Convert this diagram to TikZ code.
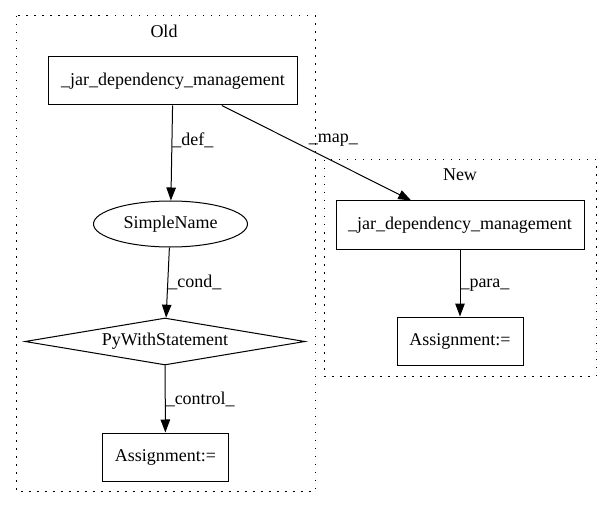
\documentclass[tikz,border=0pt]{standalone}
\usepackage{fontspec}
\setmainfont{Liberation Serif}
\usetikzlibrary{shapes.geometric,arrows.meta}
\tikzset{edge/.style={draw,line width=1pt,-{Triangle[length=13pt,width=9.5pt]}}}
\tikzset{box/.style={rectangle,draw,line width=1pt,inner sep=0pt,font=\fontsize{18}{20}\selectfont}}
\tikzset{cluster/.style={draw,line width=1pt,dash pattern=on 1.5pt off 6.5pt}}
\tikzset{lbl/.style={inner sep=0pt,anchor=west,font=\fontsize{18}{20}\selectfont}}

\begin{document}
\begin{tikzpicture}[x=1pt,y=-1pt]
    \useasboundingbox (0,0) rectangle (611,508);
    \draw[cluster] (16,16) rectangle (315,491);
    \draw[cluster] (324,160) rectangle (596,376);
    \node[lbl,anchor=center] (old) at (164,31) {Old};
    \node[lbl,anchor=center] (new) at (460,175) {New};
    \node[box,minimum width=249pt,minimum height=48pt] (oldjar) at (173,81) {\_jar\_dependency\_management};
    \node[box,ellipse,minimum width=154pt,minimum height=46pt] (simple) at (170.5,224) {SimpleName};
    \node[box,diamond,aspect=6,minimum width=280pt,minimum height=47pt] (pywith) at (165,341.5) {PyWithStatement};
    \node[box,minimum width=126pt,minimum height=48pt] (oldassign) at (165.5,457) {Assignment:=};
    \node[box,minimum width=248pt,minimum height=48pt] (newjar) at (460,225) {\_jar\_dependency\_management};
    \node[box,minimum width=126pt,minimum height=48pt] (newassign) at (460,341) {Assignment:=};
    \draw[edge] (oldjar) -- node[lbl,pos=0.37] {\_def\_} (simple);
    \draw[edge] (oldjar) -- node[lbl,pos=0.365,xshift=17.5pt] {\_map\_} (newjar);
    \draw[edge] (simple) -- node[lbl,pos=0.5] {\_cond\_} (pywith);
    \draw[edge] (pywith) -- node[lbl,pos=0.51] {\_control\_} (oldassign);
    \draw[edge] (newjar) -- node[lbl,pos=0.53] {\_para\_} (newassign);
  \end{tikzpicture}
\end{document}
